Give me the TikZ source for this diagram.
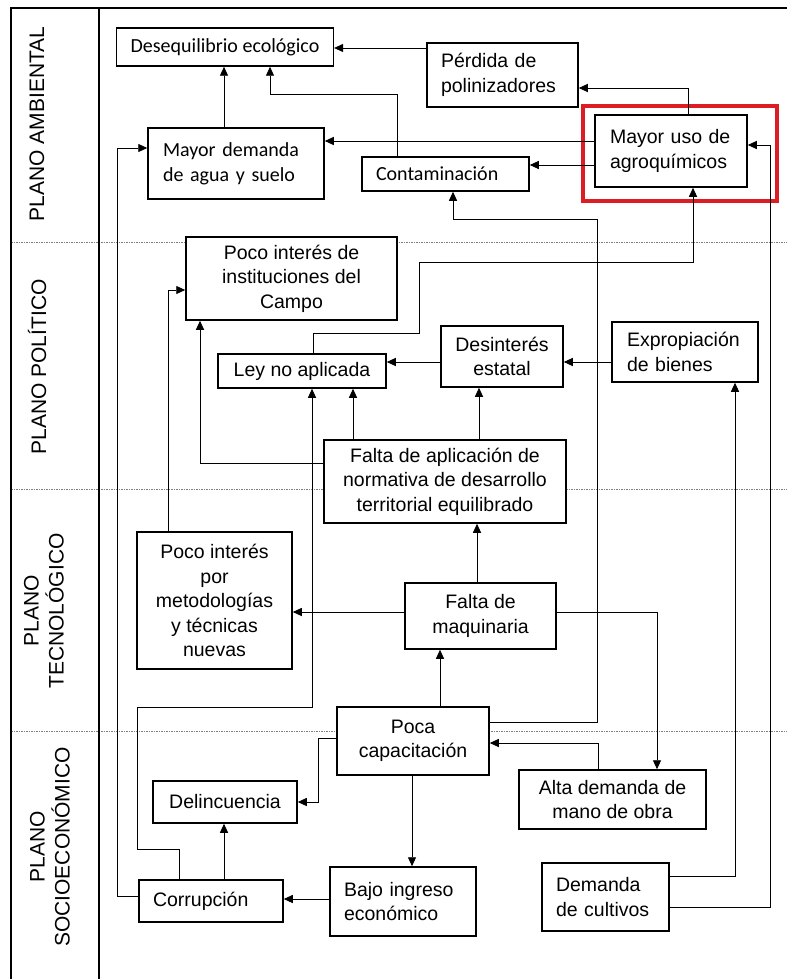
\documentclass[tikz,border=0pt]{standalone}
\usepackage{fontspec}
\setmainfont{Liberation Sans}
\newfontfamily\calibri{Carlito}
\usetikzlibrary{arrows.meta}
\definecolor{rojo}{RGB}{222,28,36}

\begin{document}
\begin{tikzpicture}[x=1pt,y=-1pt,
	caja/.style={draw,line width=1.5pt,fill=white,inner xsep=14pt,inner ysep=0pt,align=center,
		font=\fontsize{19.5}{24.5}\selectfont},
	cal/.style={font=\calibri\fontsize{20}{25}\selectfont},
	izq/.style={align=left,text width=#1},
	plano/.style={rotate=90,align=center,font=\fontsize{21}{25}\selectfont},
	flecha/.style={-{Triangle[length=9pt,width=8pt]},line width=0.9pt},
	sep/.style={gray,line width=0.6pt,dash pattern=on 1.5pt off 1pt}]
\useasboundingbox (0,0) rectangle (787,979);

\foreach \y in {242,489,731}
	\draw[sep] (11,\y) -- (787,\y);
\draw[line width=1.2pt] (11,979) -- (11,8) -- (787,8);
\draw[line width=1.2pt] (99,8) -- (99,979);

\node[plano] (amb) at (37,124) {PLANO AMBIENTAL};
\node[plano] (pol) at (37,367) {PLANO POLÍTICO};
\node[plano] (tec) at (44,611) {PLANO\\TECNOLÓGICO};
\node[plano] (soc) at (50,847) {PLANO\\SOCIOECONÓMICO};

\draw[rojo,line width=3.5pt] (583,106) rectangle (777,201);

\node[caja,cal,minimum width=216pt,minimum height=38pt] (des) at (225,47) {Desequilibrio ecológico};
\node[caja,izq=123pt,minimum height=64pt] (per) at (502.5,75) {Pérdida de\\polinizadores};
\node[caja,izq=122pt,inner xsep=15pt,minimum height=72pt] (agro) at (671,151) {Mayor uso de\\agroquímicos};
\node[caja,cal,izq=146pt,inner xsep=15pt,minimum height=71pt] (agua) at (236,163.5) {Mayor demanda\\de agua y suelo};
\node[caja,cal,izq=139pt,minimum height=34pt] (cont) at (445.5,174) {Contaminación};
\node[caja,minimum width=211pt,minimum height=83pt] (inst) at (291.5,278.5) {Poco interés de\\instituciones del\\Campo};
\node[caja,minimum width=168pt,minimum height=34pt] (ley) at (302,371) {Ley no aplicada};
\node[caja,minimum width=122pt,minimum height=61pt] (esta) at (502,356.5) {Desinterés\\estatal};
\node[caja,izq=116pt,inner xsep=15pt,minimum height=60pt] (expr) at (685,352) {Expropiación\\de bienes};
\node[caja,minimum width=242pt,minimum height=83pt] (norm) at (445,481.5) {Falta de aplicación de\\normativa de desarrollo\\territorial equilibrado};
\node[caja,minimum width=155pt,minimum height=137pt] (meto) at (214.5,600.5) {Poco interés\\por\\metodologías\\y técnicas\\nuevas};
\node[caja,minimum width=151pt,minimum height=66pt] (maq) at (480.5,616) {Falta de\\maquinaria};
\node[caja,minimum width=152pt,minimum height=68pt] (cap) at (413,741) {Poca\\capacitación};
\node[caja,minimum width=187pt,minimum height=59pt] (mano) at (612.5,799.5) {Alta demanda de\\mano de obra};
\node[caja,minimum width=144pt,minimum height=42pt] (del) at (225,802) {Delincuencia};
\node[caja,izq=116pt,minimum height=42pt] (corr) at (211,901) {Corrupción};
\node[caja,izq=118pt,minimum height=69pt] (bajo) at (403,901.5) {Bajo ingreso\\económico};
\node[caja,izq=99pt,minimum height=68pt] (cult) at (605.5,897) {Demanda\\de cultivos};

\draw[flecha] (per.west |- 0,48) -- (des.east |- 0,48);
\draw[flecha] (agua.north -| 224,0) -- (des.south -| 224,0);
\draw[flecha] (cont.north -| 397,0) |- (270,94) -- (des.south -| 270,0);
\draw[flecha] (agro.north -| 688,0) |- (per.east |- 0,88);
\draw[flecha] (agro.west |- 0,141) -- (agua.east |- 0,141);
\draw[flecha] (agro.west |- 0,165) -- (cont.east |- 0,165);
\draw[flecha] (cap.east |- 0,722) -| (597,219) -| (cont.south -| 453,0);
\draw[flecha] (ley.north -| 313,0) |- (419,333) |- (693,262) -- (agro.south -| 693,0);
\draw[flecha] (cult.east |- 0,907) -| (770,145) -- (agro.east |- 0,145);
\draw[flecha] (cult.east |- 0,876) -| (expr.south -| 735,0);
\draw[flecha] (expr.west |- 0,362) -- (esta.east |- 0,362);
\draw[flecha] (esta.west |- 0,362) -- (ley.east |- 0,362);
\draw[flecha] (norm.north -| 479,0) -- (esta.south -| 479,0);
\draw[flecha] (norm.north -| 353,0) -- (ley.south -| 353,0);
\draw[flecha] (norm.west |- 0,463) -| (inst.south -| 200,0);
\draw[flecha] (corr.north -| 179,0) |- (137,849) |- (312,707) -- (ley.south -| 312,0);
\draw[flecha] (meto.north -| 168,0) |- (inst.west |- 0,290);
\draw[flecha] (maq.west |- 0,612) -- (meto.east |- 0,612);
\draw[flecha] (maq.north -| 477,0) -- (norm.south -| 477,0);
\draw[flecha] (cap.north -| 440,0) -- (maq.south -| 440,0);
\draw[flecha] (maq.east |- 0,612) -| (mano.north -| 657,0);
\draw[flecha] (mano.north -| 598,0) |- (cap.east |- 0,743);
\draw[flecha] (cap.west |- 0,738) -| (318,802) -- (del.east |- 0,802);
\draw[flecha] (cap.south -| 412,0) -- (bajo.north -| 412,0);
\draw[flecha] (bajo.west |- 0,899) -- (corr.east |- 0,899);
\draw[flecha] (corr.north -| 224,0) -- (del.south -| 224,0);
\draw[flecha] (corr.west |- 0,896) -| (117,148) -- (agua.west |- 0,148);
\end{tikzpicture}
\end{document}
